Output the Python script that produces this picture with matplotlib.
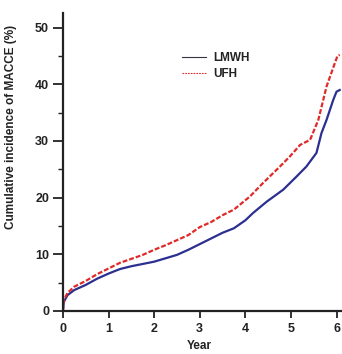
import matplotlib
matplotlib.use("Agg")
import matplotlib.pyplot as plt
from matplotlib.lines import Line2D
from matplotlib.ticker import MultipleLocator

plt.rcParams['font.family'] = ['Liberation Sans', 'DejaVu Sans']

# Data (years, cumulative incidence %)
lmwh_years = [0, 0.02, 0.1, 0.25, 0.5, 0.75, 1.0, 1.25, 1.5, 1.75, 2.0, 2.25, 2.5, 2.75,
              3.0, 3.25, 3.5, 3.75, 4.0, 4.17, 4.47, 4.83, 5.12, 5.34, 5.56, 5.67,
              5.78, 5.93, 6.0, 6.07]
lmwh_vals = [0, 1.6, 2.8, 3.7, 4.6, 5.7, 6.6, 7.4, 7.9, 8.3, 8.7, 9.3, 9.9, 10.8,
             11.8, 12.8, 13.8, 14.6, 16.0, 17.3, 19.3, 21.4, 23.7, 25.5, 27.9, 31.4,
             33.7, 37.3, 38.7, 39.0]

ufh_years = [0, 0.02, 0.1, 0.25, 0.5, 0.75, 1.0, 1.25, 1.5, 1.75, 2.0, 2.25, 2.5, 2.75,
             3.0, 3.25, 3.5, 3.75, 4.1, 4.39, 4.76, 4.98, 5.2, 5.42, 5.6, 5.71,
             5.78, 5.86, 5.93, 6.02, 6.07]
ufh_vals = [0, 1.9, 3.2, 4.3, 5.3, 6.5, 7.5, 8.5, 9.2, 9.9, 10.8, 11.6, 12.5, 13.4,
            14.8, 15.7, 16.9, 17.9, 20.2, 22.6, 25.5, 27.3, 29.3, 30.2, 33.7, 37.3,
            39.6, 41.4, 43.0, 45.0, 45.2]

series_names = ["LMWH", "UFH"]
x_ticks = [0, 1, 2, 3, 4, 5, 6]
y_ticks = [0, 10, 20, 30, 40, 50]

fig = plt.figure(figsize=(3.42, 3.54), dpi=100)
ax = fig.add_axes([0.184, 0.1215, 0.816, 0.842])

blue = "#2B2F8F"
red = "#E02A2A"
ax.plot(lmwh_years, lmwh_vals, color=blue, lw=1.6)
ax.plot(ufh_years, ufh_vals, color=red, lw=1.6, linestyle=(0, (2.2, 0.9)))

ax.set_xlim(0, 6.12)
ax.set_ylim(0, 52.6)
ax.set_xticks(x_ticks)
ax.set_yticks(y_ticks)
ax.yaxis.set_minor_locator(MultipleLocator(5))

for s in ['top', 'right']:
    ax.spines[s].set_visible(False)
for s in ['left', 'bottom']:
    ax.spines[s].set_linewidth(1.6)
    ax.spines[s].set_color('#222222')

ax.tick_params(axis='both', which='major', width=1.3, color='#222222',
               labelsize=9, direction='out')
ax.tick_params(axis='y', which='major', length=7, pad=3)
ax.tick_params(axis='y', which='minor', length=3.5, width=1.0, color='#222222')
ax.tick_params(axis='x', which='major', length=5, pad=4)
for lab in ax.get_xticklabels() + ax.get_yticklabels():
    lab.set_fontweight('bold')
    lab.set_color('#222222')

ax.set_xlabel("Year", fontsize=8.5, fontweight='bold', color='#222222')
ax.xaxis.set_label_coords(0.49, -0.098)
ax.set_ylabel("Cumulative incidence of MACCE (%)", fontsize=8.5, fontweight='bold', color='#222222')
ax.yaxis.set_label_coords(-0.165, 0.617)

handles = [Line2D([], [], color='#333344', lw=0.8),
           Line2D([], [], color=red, lw=0.8, linestyle=(0, (1.5, 1)))]
leg = ax.legend(handles, series_names, loc='upper left', bbox_to_anchor=(0.39, 0.905),
                frameon=False, handlelength=2.0, handletextpad=0.6, labelspacing=0.35,
                prop={'weight': 'bold', 'size': 8.5})
for t in leg.get_texts():
    t.set_color('#222222')

fig.savefig("out.png", dpi=100)
